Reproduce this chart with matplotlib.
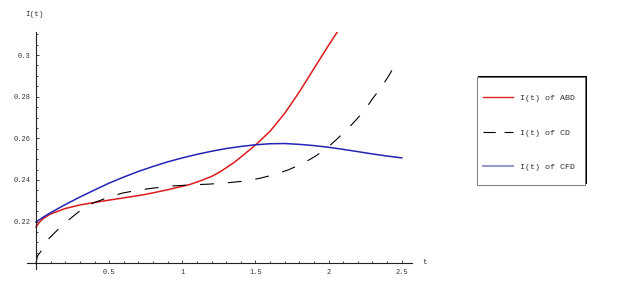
import numpy as np
import matplotlib
matplotlib.use("Agg")
import matplotlib.pyplot as plt
from matplotlib.lines import Line2D
from matplotlib.patches import Rectangle

# I(t) of ABD (red)
t_abd = [0, 0.02, 0.05, 0.1, 0.2, 0.3, 0.45, 0.6, 0.75, 0.9, 1.05, 1.12, 1.2,
         1.26, 1.35, 1.42, 1.5, 1.6, 1.7, 1.8, 1.9, 2.0, 2.07]
i_abd = [0.2173, 0.2195, 0.2215, 0.2237, 0.2263, 0.2280, 0.2298, 0.2314, 0.2331,
         0.2353, 0.2378, 0.2395, 0.2417, 0.2440, 0.2482, 0.2521, 0.2568, 0.2634,
         0.2720, 0.2823, 0.2935, 0.3047, 0.3122]

# I(t) of CD (dashed)
t_cd = [0, 0.01, 0.045, 0.09, 0.16, 0.23, 0.3, 0.39, 0.48, 0.59, 0.69, 0.8, 0.93,
        1.05, 1.18, 1.3, 1.43, 1.53, 1.63, 1.73, 1.83, 1.91, 1.99, 2.05, 2.12,
        2.19, 2.25, 2.3, 2.36, 2.41, 2.46]
i_cd = [0.2, 0.2035, 0.2068, 0.2120, 0.2169, 0.2212, 0.2252, 0.2289, 0.2313,
        0.2337, 0.2350, 0.2361, 0.2371, 0.2376, 0.2380, 0.2386, 0.2395, 0.2408,
        0.2426, 0.2450, 0.2482, 0.2514, 0.2554, 0.2592, 0.2638, 0.2690, 0.2739,
        0.2790, 0.2845, 0.2899, 0.2960]

# I(t) of CFD (blue)
t_cfd = [0, 0.05, 0.1, 0.2, 0.3, 0.4, 0.5, 0.6, 0.7, 0.8, 0.9, 1.0, 1.1, 1.2, 1.3,
         1.4, 1.5, 1.6, 1.7, 1.8, 1.9, 2.0, 2.1, 2.2, 2.3, 2.4, 2.5]
i_cfd = [0.2198, 0.2222, 0.2243, 0.2282, 0.2318, 0.2352, 0.2385, 0.2414, 0.2441,
         0.2465, 0.2487, 0.2506, 0.2523, 0.2538, 0.2551, 0.2561, 0.2569, 0.2574,
         0.2575, 0.2571, 0.2565, 0.2557, 0.2547, 0.2536, 0.2525, 0.2515, 0.2506]

xticks = [0.5, 1, 1.5, 2, 2.5]
xlabels = ["0.5", "1", "1.5", "2", "2.5"]
yticks = [0.22, 0.24, 0.26, 0.28, 0.3]
ylabels = ["0.22", "0.24", "0.26", "0.28", "0.3"]
names = ["I(t) of ABD", "I(t) of CD", "I(t) of CFD"]

mono = "Liberation Mono"
W, H = 617, 282

fig = plt.figure(figsize=(W / 100, H / 100), dpi=100)
fig.patch.set_facecolor("white")
ax = fig.add_axes([27 / W, (H - 269.3) / H, (412 - 27) / W, (269.3 - 31.7) / H])
ax.set_facecolor("none")

ax.plot(t_abd, i_abd, color="#dd1c1c", lw=1.1)
ax.plot(t_cd, i_cd, color="black", lw=0.8, dashes=(12.5, 12.5))
ax.plot(t_cfd, i_cfd, color="#2424b4", lw=1.1)

ax.set_xlim(-0.0615, 2.57)
ax.set_ylim(0.19711, 0.3112)

for s in ["top", "right"]:
    ax.spines[s].set_visible(False)
ax.spines["left"].set_position(("data", 0))
ax.spines["bottom"].set_position(("data", 0.2))
for s in ["left", "bottom"]:
    ax.spines[s].set_color("#222222")
    ax.spines[s].set_linewidth(0.8)

ax.set_xticks(xticks)
ax.set_xticklabels(xlabels)
ax.set_yticks(yticks)
ax.set_yticklabels(ylabels)
ax.set_xticks(np.arange(0.1, 2.55, 0.1), minor=True)
ax.set_yticks(np.arange(0.205, 0.3111, 0.005), minor=True)
ax.tick_params(which="both", direction="in", color="#222222", width=0.6,
               labelsize=5, labelcolor="#333333")
ax.tick_params(which="major", length=2.5, pad=4)
ax.tick_params(which="minor", length=1.5)
for lab in ax.get_xticklabels() + ax.get_yticklabels():
    lab.set_family(mono)

fig.text(35 / W, 1 - 15 / H, "I(t)", family=mono, fontsize=5.5, color="#333333",
         ha="center", va="center")
fig.text(425 / W, 1 - 263 / H, "t", family=mono, fontsize=5.5, color="#333333",
         ha="center", va="center")

# legend box with shadow
bx, by, bw, bh = 476.7, 185, 108.3, 107.7
fig.patches.append(Rectangle(((bx + 1.6) / W, (H - by + 1.4) / H), bw / W, bh / H,
                             transform=fig.transFigure, facecolor="black",
                             edgecolor="none", zorder=1))
fig.patches.append(Rectangle((bx / W, (H - by) / H), bw / W, bh / H,
                             transform=fig.transFigure, facecolor="white",
                             edgecolor="#666666", lw=0.6, zorder=2))

handles = [Line2D([], [], color="#dd2222", lw=1.0),
           Line2D([], [], color="black", lw=0.8, dashes=(11, 8)),
           Line2D([], [], color="#9a9ac8", lw=1.5)]
leg = fig.legend(handles, names, loc="upper left",
                 bbox_to_anchor=(482.7 / W, 1 - 94.5 / H), frameon=False,
                 borderpad=0, borderaxespad=0, handlelength=3.67,
                 handletextpad=0.8, labelspacing=3.2,
                 prop={"family": mono, "size": 6})
leg.set_zorder(3)
for txt in leg.get_texts():
    txt.set_color("#333333")

fig.savefig("out.png", dpi=100)
